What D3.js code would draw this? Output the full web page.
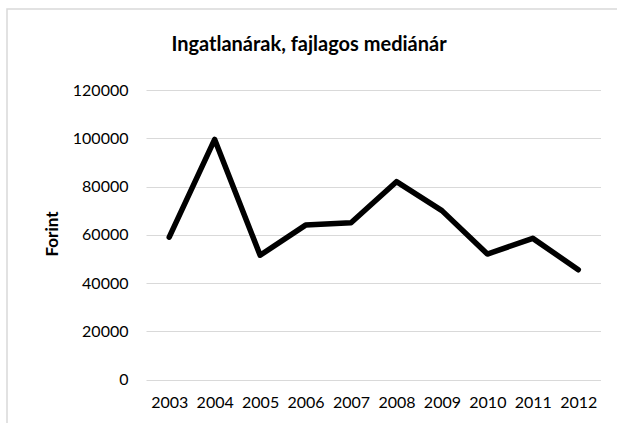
<!DOCTYPE html>
<html>
<head>
<meta charset="utf-8">
<script src="https://cdn.jsdelivr.net/npm/d3@7"></script>
<style>
  body { margin: 0; background: #fff; }
  text { font-family: Lato, "Open Sans", sans-serif; fill: #000; }
  .grid line { stroke: #d9d9d9; stroke-width: 1; }
</style>
</head>
<body>
<div id="chart"></div>
<script>
// chart data
var years = ["2003", "2004", "2005", "2006", "2007", "2008", "2009", "2010", "2011", "2012"];
var prices = [59000, 99500, 51500, 64000, 65000, 82000, 70000, 52000, 58500, 45500];
var yTicks = [0, 20000, 40000, 60000, 80000, 100000, 120000];

var svgWidth = 617;
var svgHeight = 423;

// plot area margins
var margin = { top: 90, bottom: 43.5, left: 146.5, right: 16 };
var chartWidth = svgWidth - margin.left - margin.right;
var chartHeight = svgHeight - margin.top - margin.bottom;

var svg = d3.select("#chart")
    .append("svg")
    .attr("width", svgWidth)
    .attr("height", svgHeight);

// outer chart border
svg.append("rect")
    .attr("x", 7)
    .attr("y", 9)
    .attr("width", svgWidth + 10)
    .attr("height", svgHeight + 10)
    .attr("fill", "none")
    .attr("stroke", "#d9d9d9")
    .attr("stroke-width", 1.5);

var chartGroup = svg.append("g")
    .attr("transform", `translate(${margin.left}, ${margin.top})`);

// scales
var xScale = d3.scalePoint()
    .domain(years)
    .range([0, chartWidth])
    .padding(0.5);

var yScale = d3.scaleLinear()
    .domain([0, 120000])
    .range([chartHeight, 0]);

// gridlines
chartGroup.append("g")
    .attr("class", "grid")
    .selectAll("line")
    .data(yTicks)
    .enter()
    .append("line")
    .attr("x1", 0)
    .attr("x2", chartWidth)
    .attr("y1", d => Math.round(yScale(d)) + 0.5)
    .attr("y2", d => Math.round(yScale(d)) + 0.5);

// y axis labels
var yAxis = d3.axisLeft(yScale).tickValues(yTicks).tickSize(0).tickPadding(18).tickFormat(d3.format("d"));
var yAxisG = chartGroup.append("g").call(yAxis);
yAxisG.select(".domain").remove();
yAxisG.selectAll("text").style("font-size", "16px");

// x axis labels
var xAxis = d3.axisBottom(xScale).tickSize(0).tickPadding(17);
var xAxisG = chartGroup.append("g")
    .attr("transform", `translate(0, ${chartHeight})`)
    .call(xAxis);
xAxisG.select(".domain").remove();
xAxisG.selectAll("text").style("font-size", "16px");

// the line
var line = d3.line()
    .x((d, i) => xScale(years[i]))
    .y(d => yScale(d));

chartGroup.append("path")
    .datum(prices)
    .attr("d", line)
    .attr("fill", "none")
    .attr("stroke", "#000")
    .attr("stroke-width", 5.5)
    .attr("stroke-linejoin", "round")
    .attr("stroke-linecap", "round");

// title
svg.append("text")
    .attr("x", 309)
    .attr("y", 51)
    .attr("text-anchor", "middle")
    .style("font-size", "20px")
    .style("font-weight", "bold")
    .text("Ingatlanárak, fajlagos mediánár");

// y axis title
svg.append("text")
    .attr("transform", "translate(58, 234) rotate(-90)")
    .attr("text-anchor", "middle")
    .style("font-size", "17px")
    .style("font-weight", "bold")
    .text("Forint");
</script>
</body>
</html>
